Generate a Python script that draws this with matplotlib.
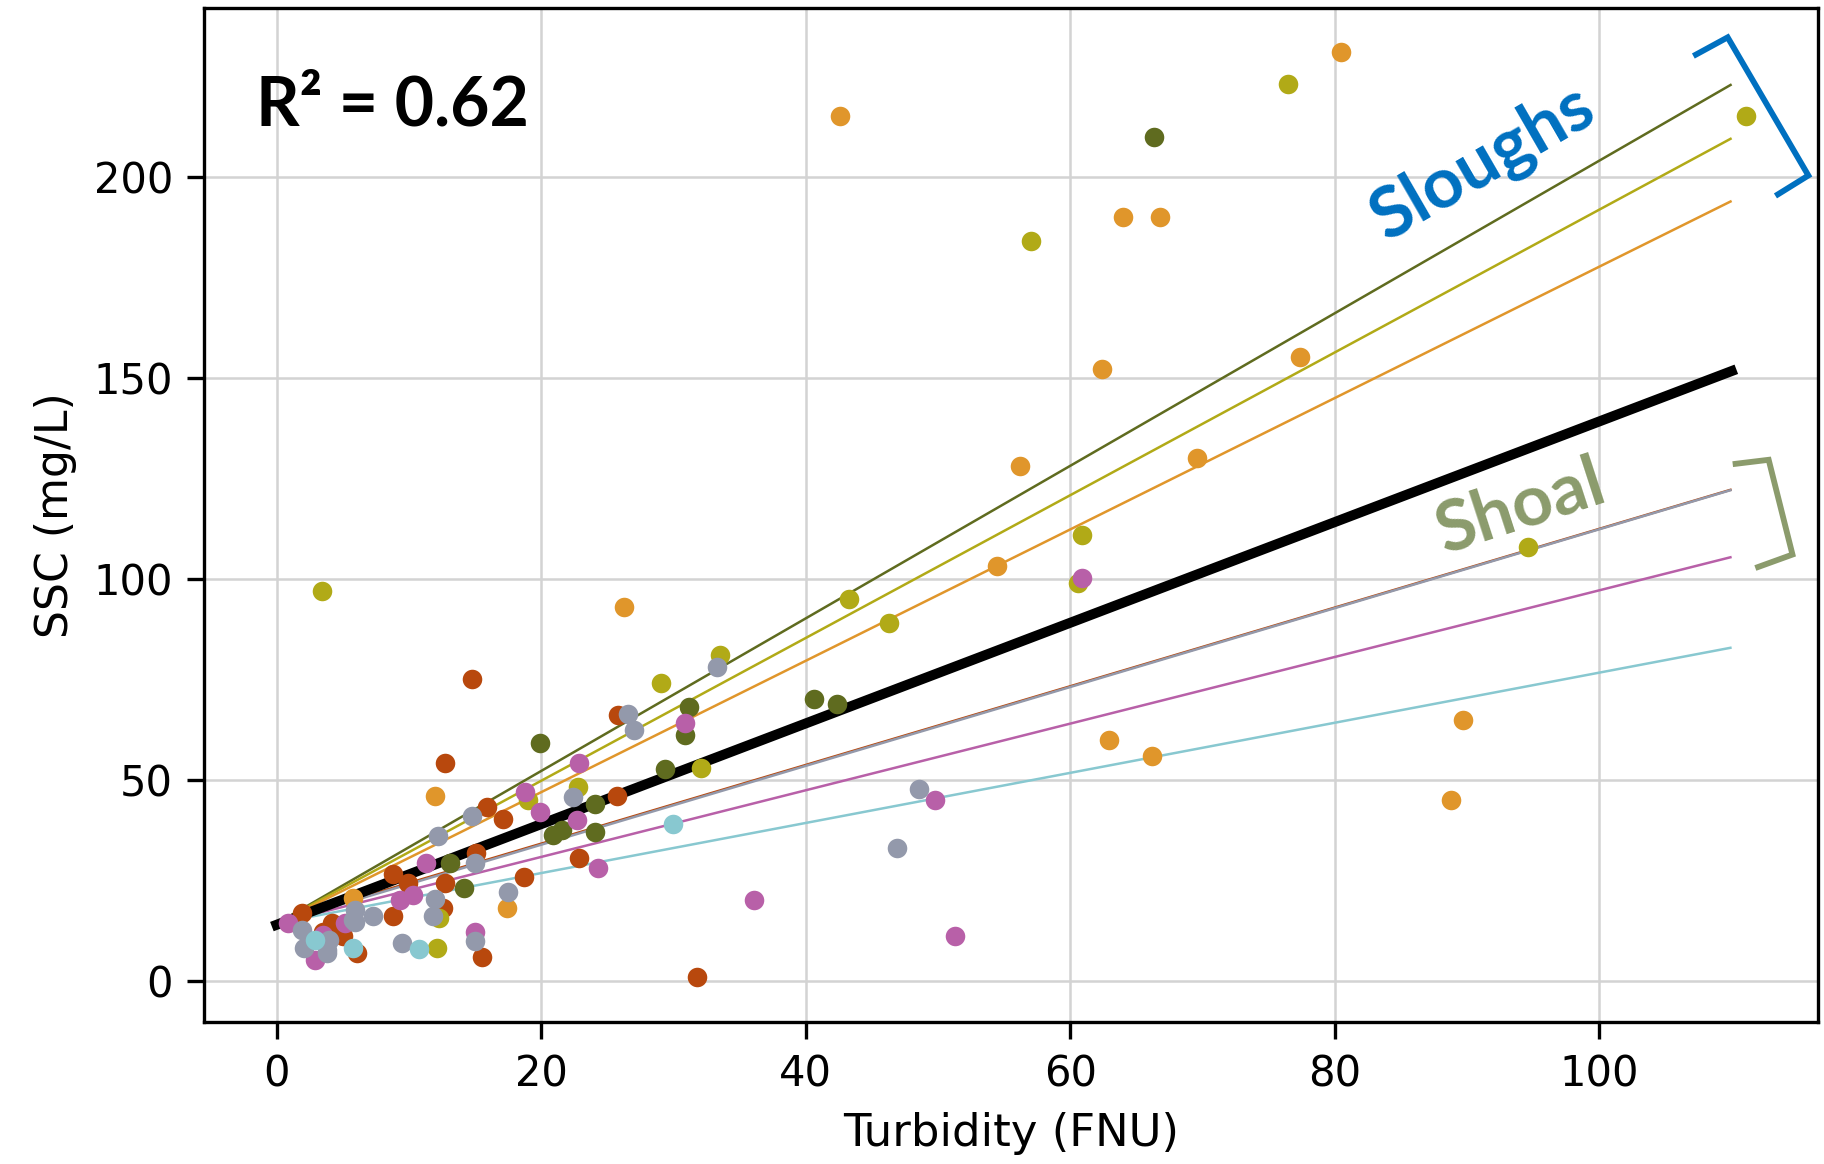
import numpy as np
import matplotlib
matplotlib.use("Agg")
import matplotlib.pyplot as plt

# ---- Site observations: turbidity (FNU) vs suspended-sediment concentration (mg/L)
rust_x = [14.8, 12.7, 25.8, 25.7, 15.9, 17.1, 22.9, 18.7, 31.8, 8.8, 15.1, 9.9,
          12.7, 8.8, 12.6, 15.5, 6.1, 1.9, 4.2, 4.5, 3.5, 5.0]
rust_y = [75.1, 54.2, 66.1, 46.1, 43.3, 40.3, 30.5, 25.8, 0.9, 26.5, 31.8, 24.4,
          24.3, 16.1, 18.1, 5.9, 6.9, 16.8, 14.4, 13.4, 12.0, 11.0]

olive_x = [66.3, 19.9, 40.6, 42.4, 31.2, 30.9, 29.4, 24.1, 24.1, 20.9, 21.6, 13.1, 14.2]
olive_y = [210.1, 59.1, 70.1, 69.0, 68.1, 61.2, 52.8, 44.1, 37.1, 36.2, 37.4, 29.3, 23.1]

yellow_x = [76.5, 111.1, 57.0, 60.9, 60.6, 94.6, 43.3, 46.3, 3.4, 29.1, 33.5, 32.1,
            22.8, 19.0, 12.1, 12.3]
yellow_y = [223.2, 215.4, 184.3, 111.0, 99.0, 108.1, 95.1, 89.0, 97.1, 74.2, 81.2, 53.0,
            48.3, 45.0, 8.1, 15.6]

orange_x = [80.5, 42.6, 64.0, 66.8, 62.4, 77.4, 56.2, 69.6, 54.5, 26.3, 62.9, 66.2,
            89.7, 88.8, 12.0, 17.4, 5.8]
orange_y = [231.3, 215.4, 190.1, 190.1, 152.2, 155.4, 128.1, 130.1, 103.2, 93.0, 60.0, 55.9,
            64.9, 44.9, 46.1, 18.0, 20.6]

magenta_x = [60.9, 49.8, 51.3, 36.1, 30.9, 22.9, 22.7, 24.3, 18.8, 19.9, 11.3, 10.3,
             9.3, 15.0, 2.9, 0.9, 3.5, 5.2]
magenta_y = [100.3, 44.9, 11.0, 20.0, 64.1, 54.2, 40.0, 28.1, 47.0, 42.0, 29.3, 21.4,
             20.0, 12.2, 5.2, 14.4, 11.4, 14.3]

gray_x = [33.3, 26.6, 27.0, 48.6, 46.9, 22.4, 14.8, 12.2, 15.0, 9.5, 15.0, 12.0,
          11.8, 7.3, 1.9, 2.1, 3.8, 4.0, 5.9, 5.9, 17.5, 5.8, 3.8]
gray_y = [78.0, 66.4, 62.3, 47.8, 33.0, 45.8, 40.9, 35.9, 29.3, 9.4, 9.9, 20.3,
          16.2, 16.2, 12.6, 8.1, 7.6, 10.1, 14.6, 17.6, 22.1, 15.1, 7.0]

cyan_x = [30.0, 10.8, 5.8, 2.9]
cyan_y = [39.1, 8.0, 8.1, 10.1]

# ---- Linear fits per site (intercept, slope) and the pooled fit
fit_olive = (14.2, 1.900)
fit_yellow = (14.2, 1.778)
fit_orange = (14.2, 1.636)
fit_rust = (14.5, 0.980)
fit_gray = (14.2, 0.982)
fit_magenta = (14.2, 0.830)
fit_cyan = (14.3, 0.624)
fit_all = (13.9, 1.2536)
fit_range = (0, 110)
r_squared = 0.62

C_RUST = "#b8480d"
C_OLIVE = "#5f6b1f"
C_YELLOW = "#b1aa17"
C_ORANGE = "#e0962b"
C_MAGENTA = "#b860a8"
C_GRAY = "#9399ab"
C_CYAN = "#88c8d0"

plt.rcParams["font.size"] = 10
fig = plt.figure(figsize=(6.08, 3.88), dpi=300)
ax = fig.add_axes([0.1121, 0.122, 0.8844, 0.8711])

xx = np.array(fit_range, dtype=float)
for (b0, b1), c in [(fit_olive, C_OLIVE), (fit_yellow, C_YELLOW), (fit_orange, C_ORANGE),
                    (fit_rust, C_RUST), (fit_gray, C_GRAY), (fit_magenta, C_MAGENTA),
                    (fit_cyan, C_CYAN)]:
    ax.plot(xx, b0 + b1 * xx, color=c, lw=0.6, zorder=3, solid_capstyle="butt")

ax.plot(xx, fit_all[0] + fit_all[1] * xx, color="black", lw=2.4, zorder=4,
        solid_capstyle="projecting")

for xs, ys, c in [(rust_x, rust_y, C_RUST), (olive_x, olive_y, C_OLIVE),
                  (yellow_x, yellow_y, C_YELLOW), (orange_x, orange_y, C_ORANGE),
                  (magenta_x, magenta_y, C_MAGENTA), (gray_x, gray_y, C_GRAY),
                  (cyan_x, cyan_y, C_CYAN)]:
    ax.scatter(xs, ys, s=22, color=c, linewidths=0, zorder=5)

ax.set_xticks([0, 20, 40, 60, 80, 100])
ax.set_yticks([0, 50, 100, 150, 200])
ax.grid(True, color="#d3d3d3", lw=0.6, zorder=0)
ax.set_axisbelow(True)
for s in ax.spines.values():
    s.set_color("black")
    s.set_linewidth(0.8)
ax.tick_params(length=4, width=0.8)
ax.set_xlabel("Turbidity (FNU)", fontsize=10.8)
ax.set_ylabel("SSC (mg/L)", fontsize=10.6)

ann = ["Lato", "DejaVu Sans"]
ax.text(0.032, 0.884, f"R² = {r_squared:.2f}", transform=ax.transAxes, ha="left",
        va="baseline", fontsize=16.3, fontweight="bold", family=ann, color="black",
        zorder=6)

ax.text(91.2, 203.5, "Sloughs", ha="center", va="center", rotation=30,
        rotation_mode="anchor", fontsize=17, fontweight="bold", family=ann,
        color="#0070c0", zorder=6)
ax.text(94.0, 118.0, "Shoal", ha="center", va="center", rotation=18,
        rotation_mode="anchor", fontsize=17, fontweight="bold", family=ann,
        color="#8b9b6c", zorder=6)

# group brackets
sl_bx = [107.3, 109.7, 115.8, 113.5]
sl_by = [230.6, 234.9, 200.5, 195.8]
sh_bx = [110.3, 112.8, 114.6, 112.0]
sh_by = [128.7, 129.7, 106.1, 103.0]
ax.plot(sl_bx, sl_by, color="#0070c0", lw=1.4, solid_joinstyle="miter",
        clip_on=False, zorder=6)
ax.plot(sh_bx, sh_by, color="#8b9b6c", lw=1.4, solid_joinstyle="miter",
        clip_on=False, zorder=6)

ax.set_xlim(-5.45, 116.5)
ax.set_ylim(-10.3, 242.2)

fig.savefig("out.png", dpi=300)
